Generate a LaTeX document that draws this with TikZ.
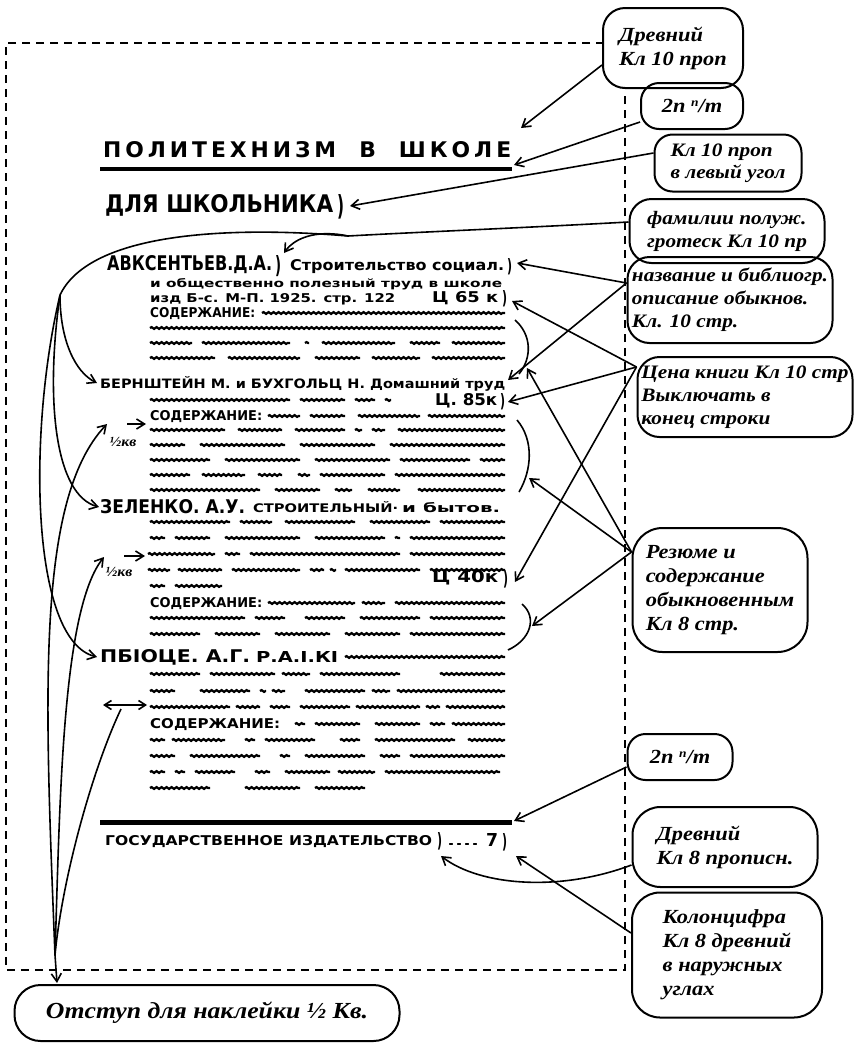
\documentclass[tikz,border=0pt]{standalone}
\usepackage{graphicx}
\usepackage{fontspec}
\setmainfont{Liberation Serif}
\newfontfamily\handfont[FakeStretch=1.12]{Liberation Serif}
\newfontfamily\letfont{DejaVu Sans}
\usetikzlibrary{decorations.pathmorphing,arrows.meta}
\newcommand{\mytext}[6]{\node[anchor=base west,inner sep=0pt] (#1) at (#2,#3) {\resizebox{#4pt}{#5pt}{\letfont\bfseries #6}};}
\newcommand{\wrow}[2]{\foreach \xa/\xb in {#2}{\draw[wavy] (\xa,#1) -- (\xb,#1);}}
\begin{document}
\begin{tikzpicture}[x=1pt,y=-1pt,
  bubble/.style={draw,line width=2pt,rounded corners=22pt,inner sep=3pt,align=left,font=\handfont\bfseries\itshape\fontsize{20}{24}\selectfont},
  conn/.style={line width=1.6pt},
  arr/.style={conn,-{Straight Barb[length=8pt,width=10pt]}},
  wavy/.style={line width=2.2pt,decorate,decoration={snake,segment length=5pt,amplitude=0.9pt}},
  frame/.style={line width=1.7pt,dash pattern=on 8pt off 6pt},
  hand/.style={font=\handfont\bfseries\itshape\fontsize{14}{14}\selectfont,inner sep=0pt}]
\useasboundingbox[fill=white] (0,0) rectangle (856,1045);

% dashed page frame
\coordinate (f1) at (6,43);
\coordinate (f2) at (604,43);
\coordinate (f3) at (625,95);
\coordinate (f4) at (625,970);
\coordinate (f5) at (6,970);
\draw[frame] (f2) -- (f1) -- (f5) -- (f4) -- (f3);

% annotation bubbles
\node[bubble,minimum width=140pt,minimum height=80pt] (b1) at (673,48) {Древний\\Кл 10 проп};
\node[bubble,rounded corners=18pt,minimum width=102pt,minimum height=46pt] (b2) at (692,106) {2п \raisebox{6pt}{\fontsize{12}{12}\selectfont п}/т};
\node[bubble,rounded corners=18pt,minimum width=147pt,minimum height=57pt,font=\handfont\bfseries\itshape\fontsize{19}{22}\selectfont] (b3) at (728,163) {Кл 10 проп\\в левый угол};
\node[bubble,minimum width=195pt,minimum height=64pt,font=\handfont\bfseries\itshape\fontsize{19}{23}\selectfont] (b4) at (727,231) {фамилии полуж.\\гротеск Кл 10 пр};
\node[bubble,minimum width=205pt,minimum height=86pt,font=\handfont\bfseries\itshape\fontsize{19}{23}\selectfont] (b5) at (730,300) {название и библиогр.\\описание обыкнов.\\Кл. 10 стр.};
\node[bubble,minimum width=215pt,minimum height=80pt,font=\handfont\bfseries\itshape\fontsize{19}{23}\selectfont] (b6) at (745,397) {Цена книги Кл 10 стр\\Выключать в\\конец строки};
\node[bubble,rounded corners=30pt,minimum width=175pt,minimum height=124pt] (b7) at (720,590) {Резюме и\\содержание\\обыкновенным\\Кл 8 стр.};
\node[bubble,rounded corners=18pt,minimum width=105pt,minimum height=46pt] (b8) at (680,757) {2п \raisebox{6pt}{\fontsize{12}{12}\selectfont п}/т};
\node[bubble,rounded corners=28pt,minimum width=185pt,minimum height=80pt] (b9) at (725,847) {Древний\\Кл 8 прописн.};
\node[bubble,rounded corners=28pt,minimum width=190pt,minimum height=125pt] (b10) at (727,955) {Колонцифра\\Кл 8 древний\\в наружных\\углах};
\node[bubble,rounded corners=26pt,minimum width=385pt,minimum height=56pt,font=\handfont\bfseries\itshape\fontsize{23}{26}\selectfont] (b11) at (207,1013) {Отступ для наклейки ½ Кв.};

% page text
\mytext{title}{103}{157}{408}{16}{\addfontfeatures{LetterSpace=18}ПОЛИТЕХНИЗМ\ \ В\ \ ШКОЛЕ}
\draw[line width=4pt] (100,169) -- (512,169);
\mytext{dla}{105}{212}{228}{18}{ДЛЯ ШКОЛЬНИКА}
\mytext{dlap}{337}{215}{7}{21}{)}
\mytext{avk}{107}{270}{165}{15}{АВКСЕНТЬЕВ.Д.А.}
\mytext{avkp}{275}{273}{6}{18}{)}
\mytext{str}{290}{270}{214}{11}{Строительство социал.}
\mytext{strp}{507}{272}{5}{14}{)}
\mytext{obs}{150}{287}{352}{9}{и общественно полезный труд в школе}
\mytext{izd}{150}{302}{245}{9}{изд Б-с. М-П. 1925. стр. 122}
\mytext{c65}{432}{302}{66}{11}{Ц 65 к}
\mytext{c65p}{502}{304}{5}{14}{)}
\mytext{sod1}{150}{317}{105}{10}{СОДЕРЖАНИЕ:}
\wrow{313}{262/505}
\wrow{328}{150/505}
\wrow{343}{150/192,202/290,305/309,322/395,410/440,452/505}
\wrow{358}{150/215,228/300,315/360,372/420,432/505}

\mytext{bern}{100}{388}{405}{12}{БЕРНШТЕЙН М. и БУХГОЛЬЦ Н. Домашний труд}
\wrow{400}{150/290,300/345,355/375,385/391}
\mytext{c85}{435}{405}{62}{12}{Ц. 85к}
\mytext{c85p}{500}{407}{5}{14}{)}
\mytext{sod2}{150}{420}{112}{10}{СОДЕРЖАНИЕ:}
\wrow{416}{268/300,310/345,358/420,428/505}
\wrow{430}{150/225,238/282,295/345,355/362,372/385,398/505}
\wrow{445}{150/185,200/285,300/375,390/505}
\wrow{460}{150/210,225/300,315/390,400/470,480/505}
\wrow{475}{150/190,202/245,258/282,298/310,320/385,395/505}
\wrow{490}{150/260,275/320,335/352,368/400,418/505}

\mytext{zel}{100}{513}{145}{14}{ЗЕЛЕНКО. А.У.}
\mytext{zel2}{253}{512}{145}{11}{СТРОИТЕЛЬНЫЙ·}
\mytext{zel3}{402}{512}{98}{10}{и бытов.}
\wrow{522}{150/230,240/272,285/355,370/430,440/505}
\wrow{538}{150/165,175/210,225/300,315/385,395/400,410/505}
\wrow{554}{148/215,225/240,250/400,410/505}
\wrow{570}{148/170,178/222,232/300,310/324,330/336,345/420,430/505}
\wrow{586}{150/165,175/222}
\mytext{c40}{432}{582}{66}{12}{Ц 40к}
\mytext{c40p}{503}{585}{5}{15}{)}
\mytext{sod3}{150}{607}{112}{10}{СОДЕРЖАНИЕ:}
\wrow{603}{268/355,362/385,395/505}
\wrow{618}{150/245,255/285,305/345,360/420,430/505}
\wrow{634}{150/200,215/260,275/330,345/400,410/505}

\mytext{pri}{100}{662}{150}{13}{ПБІОЦЕ. А.Г.}
\mytext{pri2}{256}{662}{82}{11}{Р.А.І.КІ}
\wrow{657}{345/505}
\wrow{674}{150/200,210/275,282/310,320/400,440/505}
\wrow{691}{150/175,200/250,260/266,272/285,305/365,372/390,397/505}
\wrow{707}{150/230,236/260,270/290,300/350,356/420,426/440,446/505}
\mytext{sod4}{150}{728}{130}{10}{СОДЕРЖАНИЕ:}
\wrow{724}{295/305,315/360,375/420,430/445,452/505}
\wrow{740}{150/165,172/225,245/255,265/315,340/360,375/455,468/505}
\wrow{756}{150/175,190/260,280/290,305/365,380/400,410/505}
\wrow{772}{150/165,175/185,195/235,255/270,285/330,338/375,385/500}
\wrow{788}{150/210,245/300,315/365}

\draw[line width=5pt] (100,822) -- (512,822);
\mytext{gos}{105}{845}{327}{10}{ГОСУДАРСТВЕННОЕ ИЗДАТЕЛЬСТВО}
\mytext{gosp}{437}{847}{5}{15}{)}
\mytext{dots}{447}{845}{32}{2}{....}
\mytext{seven}{486}{846}{12}{13}{7}
\mytext{sevenp}{502}{848}{5}{15}{)}

% brackets
\draw[conn] (515,320) .. controls (532,335) and (532,358) .. (519,374);
\draw[conn] (517,420) .. controls (534,440) and (532,470) .. (519,492);
\draw[conn] (522,604) .. controls (538,618) and (530,640) .. (508,650);

% connector anchors
\coordinate (b1p) at ([yshift=-17pt]b1.west);
\coordinate (b2p) at ([yshift=-16pt]b2.west);
\coordinate (b3p) at ([yshift=10pt]b3.west);
\coordinate (b4p) at ([yshift=9pt]b4.west);
\coordinate (b5p) at ([yshift=17pt]b5.west);
\coordinate (b6p) at ([yshift=30pt]b6.west);
\coordinate (b7p) at ([yshift=38pt]b7.west);
\coordinate (b8p) at ([yshift=-10pt]b8.west);
\coordinate (b9p) at ([yshift=-18pt]b9.west);
\coordinate (b10p) at ([yshift=22pt]b10.west);
\coordinate (tShk) at (521,128);
\coordinate (tRule) at (514,165);
\coordinate (tDla) at (350,206);
\coordinate (J) at (348,236);
\coordinate (tAvk) at (284,253);
\coordinate (tSoc) at (517,263);
\coordinate (tTrud) at (508,380);
\coordinate (tC65) at (512,301);
\coordinate (tC85) at (508,402);
\coordinate (tC40) at (515,582);
\coordinate (tBr1) at (527,368);
\coordinate (tBr2) at (529,478);
\coordinate (tBr3) at (532,626);
\coordinate (tRule2) at (514,821);
\coordinate (tIzd) at (441,856);
\coordinate (tSeven) at (516,856);
\coordinate (A) at (60,295);
\coordinate (tBern) at (97,383);
\coordinate (tZel) at (99,507);
\coordinate (tPri) at (97,657);
\coordinate (m1) at (107,424);
\coordinate (m2) at (104,557);
\coordinate (m3) at (121,709);
\coordinate (C) at (55,955);
\coordinate (tBot) at (57,983);

% right-hand connectors
\draw[arr] (b1p) -- (tShk);
\draw[arr] (b2p) -- (tRule);
\draw[arr] (b3p) -- (tDla);
\draw[conn] (b4p) .. controls (520,228) and (420,232) .. (J);
\draw[arr] (J) .. controls (320,230) and (296,236) .. (tAvk);
\draw[arr] (b5p) -- (tSoc);
\draw[arr] (b5p) -- (tTrud);
\draw[arr] (b6p) -- (tC65);
\draw[arr] (b6p) -- (tC85);
\draw[arr] (b6p) -- (tC40);
\draw[arr] (b7p) -- (tBr1);
\draw[arr] (b7p) -- (tBr2);
\draw[arr] (b7p) -- (tBr3);
\draw[arr] (b8p) -- (tRule2);
\draw[arr] (b9p) .. controls (560,892) and (480,886) .. (tIzd);
\draw[arr] (b10p) -- (tSeven);

% left-hand connectors: surnames
\draw[conn] (J) .. controls (230,226) and (90,232) .. (A);
\draw[arr] (A) .. controls (60,340) and (75,372) .. (tBern);
\draw[arr] (A) .. controls (45,400) and (55,495) .. (tZel);
\draw[arr] (A) .. controls (28,430) and (30,640) .. (tPri);

% left-hand connectors: indents
\draw[arr] (C) .. controls (45,700) and (35,500) .. (m1);
\draw[arr] (C) .. controls (60,800) and (62,610) .. (m2);
\draw[conn] (C) .. controls (62,880) and (92,770) .. (m3);
\draw[arr] (C) -- (tBot);
\coordinate (i1a) at (127,424); \coordinate (i1b) at (146,424);
\coordinate (i2a) at (124,556); \coordinate (i2b) at (145,556);
\coordinate (i3a) at (103,705); \coordinate (i3b) at (147,705);
\draw[arr] (i1a) -- (i1b);
\draw[arr] (i2a) -- (i2b);
\draw[conn,{Straight Barb[length=7pt,width=9pt]}-{Straight Barb[length=7pt,width=9pt]}] (i3a) -- (i3b);
\node[hand] (h1) at (123,442) {½кв};
\node[hand] (h2) at (119,572) {½кв};
\end{tikzpicture}
\end{document}
